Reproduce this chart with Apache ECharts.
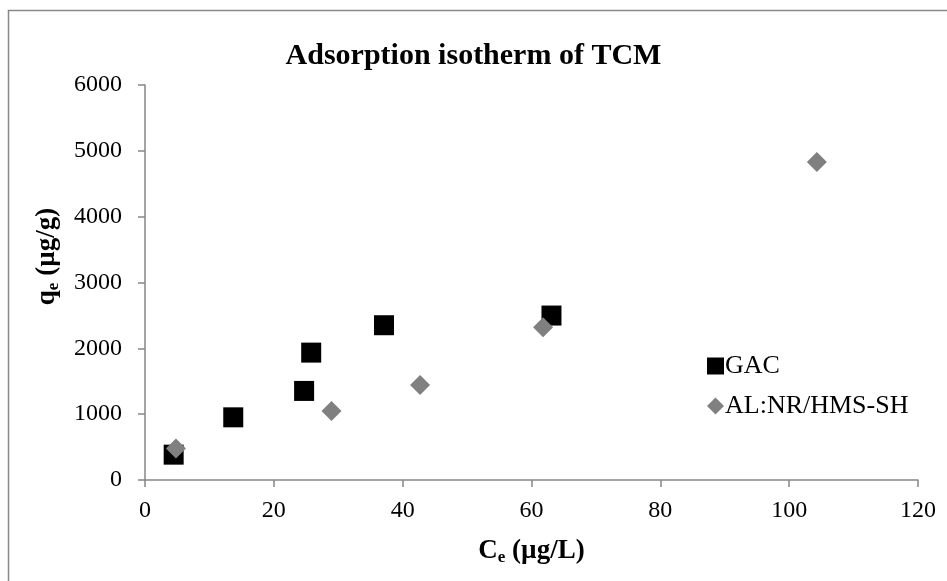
<!DOCTYPE html>
<html>
<head>
<meta charset="utf-8">
<script src="https://cdn.jsdelivr.net/npm/echarts@6/dist/echarts.min.js"></script>
<style>html,body{margin:0;padding:0;background:#fff;}#c{width:947px;height:581px;}</style>
</head>
<body>
<div id="c"></div>
<script>
const gacCe = [4.45, 13.7, 24.7, 25.8, 37.1, 63.1];
const gacQe = [385, 952, 1353, 1935, 2351, 2498];
const alCe = [4.8, 28.95, 42.7, 61.8, 104.3];
const alQe = [480, 1049, 1444, 2320, 4829];
const seriesNames = ['GAC', 'AL:NR/HMS-SH'];
const titleText = 'Adsorption isotherm of TCM';

const FONT = '"Liberation Serif", "Times New Roman", serif';
const chart = echarts.init(document.getElementById('c'), null, {renderer: 'canvas'});
const pairs = (xs, ys) => xs.map((x, i) => [x, ys[i]]);
const subRich = {
  m: {fontFamily: FONT, fontWeight: 'bold', fontSize: 27, color: '#000', lineHeight: 30, verticalAlign: 'middle'},
  s: {fontFamily: FONT, fontWeight: 'bold', fontSize: 17, color: '#000', lineHeight: 10, verticalAlign: 'bottom'}
};
chart.setOption({
  animation: false,
  backgroundColor: '#fff',
  graphic: [{
    type: 'rect', shape: {x: 8.5, y: 10.5, width: 1200, height: 1200},
    style: {fill: 'none', stroke: '#888', lineWidth: 1.5}, silent: true
  }],
  title: {
    text: titleText, left: 'center', top: 36,
    textStyle: {fontFamily: FONT, fontWeight: 'bold', fontSize: 30, color: '#000'}
  },
  legend: {
    orient: 'vertical', left: 702, top: 348, itemGap: 14,
    itemWidth: 17, itemHeight: 17,
    data: [{name: seriesNames[0], icon: 'rect'}, {name: seriesNames[1], icon: 'diamond'}],
    textStyle: {fontFamily: FONT, fontSize: 26, color: '#000', padding: [0, 0, 0, -4]}
  },
  grid: {left: 145, right: 29, top: 85, bottom: 101},
  xAxis: {
    type: 'value', min: 0, max: 120, interval: 20,
    name: '{m|C}{s|e}{m| (µg/L)}', nameLocation: 'middle', nameGap: 56,
    nameTextStyle: {rich: subRich},
    axisLine: {show: true, lineStyle: {color: '#868686', width: 1.5}},
    axisTick: {show: true, inside: false, length: 7, lineStyle: {color: '#868686', width: 1.5}},
    axisLabel: {fontFamily: FONT, fontSize: 24, color: '#000', margin: 19},
    splitLine: {show: false}
  },
  yAxis: {
    type: 'value', min: 0, max: 6000, interval: 1000,
    name: '{m|q}{s|e}{m| (µg/g)}', nameLocation: 'middle', nameGap: 83, nameRotate: 90,
    nameTextStyle: {rich: subRich, padding: [0, 0, 0, 52]},
    axisLine: {show: true, lineStyle: {color: '#868686', width: 1.5}},
    axisTick: {show: true, inside: false, length: 7, lineStyle: {color: '#868686', width: 1.5}},
    axisLabel: {fontFamily: FONT, fontSize: 24, color: '#000', margin: 23, formatter: v => String(v)},
    splitLine: {show: false}
  },
  series: [
    {name: seriesNames[0], type: 'scatter', symbol: 'rect', symbolSize: 20,
     itemStyle: {color: '#000', opacity: 1}, emphasis: {disabled: true}, data: pairs(gacCe, gacQe)},
    {name: seriesNames[1], type: 'scatter', symbol: 'diamond', symbolSize: 20,
     itemStyle: {color: '#808080', opacity: 1}, emphasis: {disabled: true}, data: pairs(alCe, alQe)}
  ]
});
</script>
</body>
</html>
